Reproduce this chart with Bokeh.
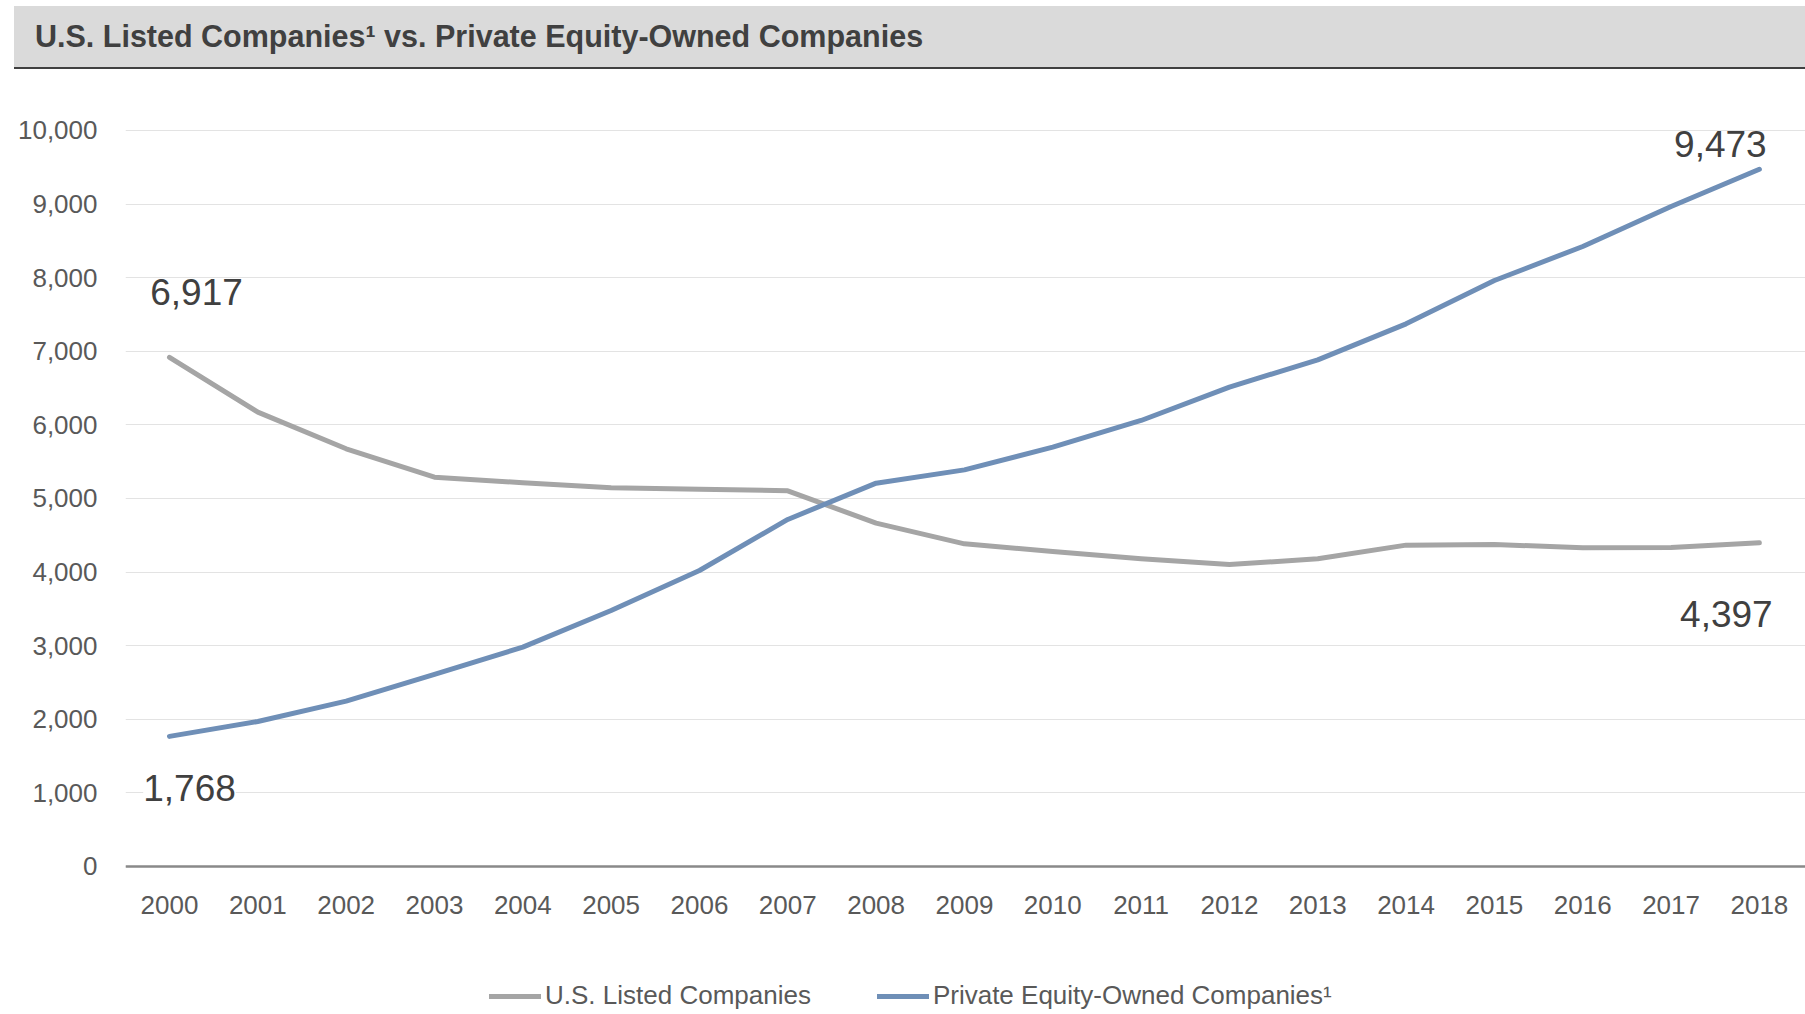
from bokeh.plotting import figure
from bokeh.models import (Range1d, FixedTicker, NumeralTickFormatter, Legend, LegendItem,
                          Label, Column, Div)
from bokeh.embed import file_html
from bokeh.resources import INLINE

# ---------------- data ----------------
years = [2000, 2001, 2002, 2003, 2004, 2005, 2006, 2007, 2008, 2009,
         2010, 2011, 2012, 2013, 2014, 2015, 2016, 2017, 2018]
us_listed = [6917, 6173, 5675, 5290, 5213, 5145, 5127, 5104, 4665, 4384,
             4280, 4180, 4103, 4180, 4366, 4375, 4330, 4334, 4397]
pe_owned = [1768, 1970, 2246, 2609, 2980, 3478, 4022, 4715, 5208, 5389,
            5697, 6060, 6513, 6884, 7373, 7962, 8424, 8967, 9473]
y_ticks = [0, 1000, 2000, 3000, 4000, 5000, 6000, 7000, 8000, 9000, 10000]
series_names = ["U.S. Listed Companies", "Private Equity-Owned Companies\u00b9"]
title_text = "U.S. Listed Companies\u00b9 vs. Private Equity-Owned Companies"

FONT = "'Liberation Sans', Arial, sans-serif"
GREY = "#a5a5a5"
BLUE = "#6f8fb7"

# ---------------- title bar ----------------
title_html = (
    '<div style="width:1791px;height:63px;box-sizing:border-box;'
    'background:#dadada;border-bottom:2.5px solid #404040;padding-left:21px;'
    "font-family:'Liberation Sans',Arial,sans-serif;font-size:30.5px;font-weight:bold;"
    'color:#404040;line-height:61px;white-space:nowrap;overflow:hidden;">'
    + title_text + '</div>'
)
title_div = Div(text=title_html, width=1791, height=63, margin=(6, 0, 0, 14))

# ---------------- main chart ----------------
p = figure(width=1805, height=945, x_range=Range1d(1999.502, 2018.522),
           y_range=Range1d(-2011, 10679), toolbar_location=None, output_backend="svg",
           min_border_left=125, min_border_right=0, min_border_top=11,
           min_border_bottom=0, outline_line_color=None,
           background_fill_color="white", border_fill_color="white")

r1 = p.line(years, us_listed, line_color=GREY, line_width=5, line_cap="round", line_join="round")
r2 = p.line(years, pe_owned, line_color=BLUE, line_width=5, line_cap="round", line_join="round")

p.xgrid.visible = False
p.ygrid.ticker = FixedTicker(ticks=y_ticks)
p.ygrid.grid_line_color = "#e3e3e3"
p.ygrid.grid_line_width = 1.2

p.yaxis.ticker = FixedTicker(ticks=y_ticks)
p.yaxis.formatter = NumeralTickFormatter(format="0,0")
p.yaxis.axis_line_color = None
p.yaxis.major_tick_line_color = None
p.yaxis.major_tick_out = 0
p.yaxis.minor_tick_line_color = None
p.yaxis.major_label_standoff = 28
p.yaxis.major_label_text_font = FONT
p.yaxis.major_label_text_font_size = "26px"
p.yaxis.major_label_text_color = "#595959"

p.xaxis.fixed_location = 0
p.xaxis.ticker = FixedTicker(ticks=years)
p.xaxis.axis_line_color = "#898989"
p.xaxis.axis_line_width = 2.5
p.xaxis.major_tick_line_color = None
p.xaxis.major_tick_out = 0
p.xaxis.minor_tick_line_color = None
p.xaxis.major_label_standoff = 30
p.xaxis.major_label_text_font = FONT
p.xaxis.major_label_text_font_size = "26px"
p.xaxis.major_label_text_color = "#595959"

# end-point data labels
lab_style = dict(text_font=FONT, text_font_size="37px", text_color="#404040",
                 text_align="center", text_baseline="middle",
                 background_fill_color="white", background_fill_alpha=1.0)
p.add_layout(Label(x=years[0], y=us_listed[0], x_offset=27, y_offset=65,
                   text=f"{us_listed[0]:,}", **lab_style))
p.add_layout(Label(x=years[0], y=pe_owned[0], x_offset=20, y_offset=-52,
                   text=f"{pe_owned[0]:,}", **lab_style))
p.add_layout(Label(x=years[-1], y=pe_owned[-1], x_offset=-39, y_offset=25,
                   text=f"{pe_owned[-1]:,}", **lab_style))
p.add_layout(Label(x=years[-1], y=us_listed[-1], x_offset=-33, y_offset=-71,
                   text=f"{us_listed[-1]:,}", **lab_style))

legend = Legend(items=[LegendItem(label=series_names[0], renderers=[r1]),
                       LegendItem(label=series_names[1], renderers=[r2])],
                orientation="horizontal", location=(364, 3),
                border_line_color=None, background_fill_alpha=0,
                label_text_font=FONT, label_text_font_size="26px",
                label_text_color="#595959", glyph_width=52, glyph_height=24,
                label_standoff=4, spacing=66, padding=0, margin=0)
p.add_layout(legend)

layout = Column(title_div, p, spacing=0)
open("out.html", "w").write(file_html(layout, INLINE))
